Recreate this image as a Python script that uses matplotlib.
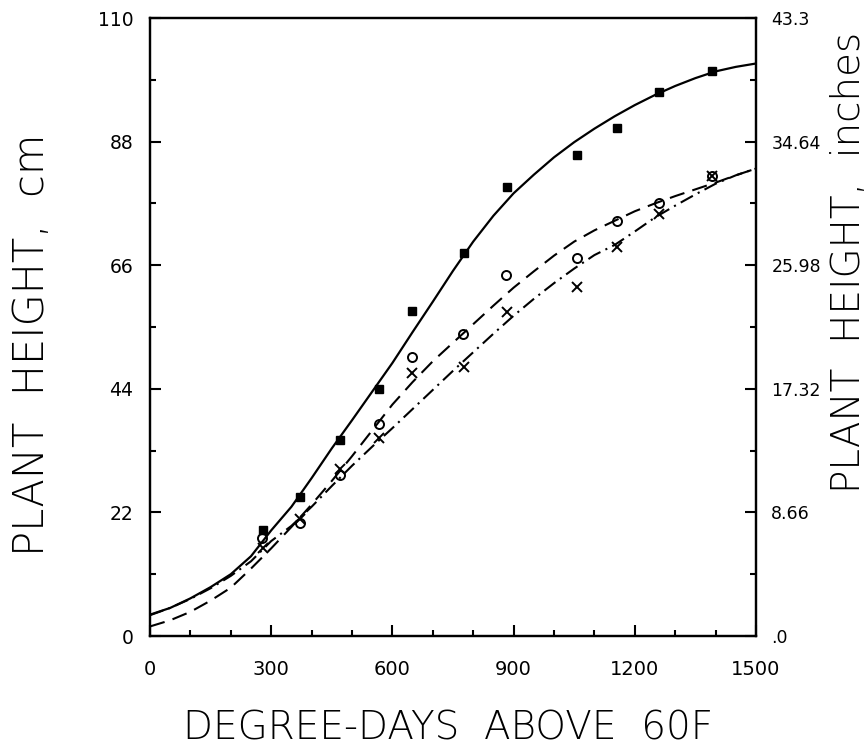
import matplotlib
matplotlib.use('Agg')
import matplotlib.pyplot as plt
from matplotlib.ticker import MultipleLocator, FixedLocator

plt.rcParams['font.family'] = ['DejaVu Sans']
plt.rcParams['lines.scale_dashes'] = False

# observed plant heights (cm)
dd_obs = [279, 371, 470, 568, 648, 777, 883, 1056, 1155, 1261, 1392]
h_square = [18.9, 24.7, 34.8, 43.9, 57.8, 68.2, 80.0, 85.7, 90.5, 96.9, 100.6]
dd_circ = [276, 371, 470, 568, 648, 775, 881, 1056, 1155, 1261, 1392]
h_circle = [17.5, 20.1, 28.6, 37.8, 49.7, 53.8, 64.3, 67.2, 73.8, 77.0, 81.8]
h_cross = [15.7, 20.8, 29.7, 35.2, 46.9, 47.8, 57.7, 62.2, 69.2, 75.2, 81.8]

# fitted curves
dd_fit = [0, 50, 100, 150, 200, 250, 300, 350, 400, 450, 500, 550, 600, 650,
          700, 750, 800, 850, 900, 950, 1000, 1050, 1100, 1150, 1200, 1250,
          1300, 1350, 1400, 1450, 1500]
fit_solid = [3.8, 5.0, 6.7, 8.7, 11.0, 14.2, 18.8, 23.0, 28.1, 33.4, 38.4, 43.5,
             48.6, 54.1, 59.5, 65.0, 70.2, 74.8, 78.8, 82.1, 85.2, 87.9, 90.3,
             92.5, 94.5, 96.3, 97.9, 99.3, 100.5, 101.3, 101.9]
fit_dashed = [1.7, 2.8, 4.3, 6.3, 8.6, 12.0, 15.6, 19.4, 23.4, 27.6, 32.0, 36.6,
              41.2, 45.2, 48.9, 52.2, 55.5, 58.8, 62.0, 64.9, 67.7, 70.2, 72.2,
              73.9, 75.6, 77.0, 78.3, 79.5, 80.7, 82.0, 83.2]
fit_dashdot = [3.7, 5.0, 6.6, 8.5, 10.7, 13.3, 16.9, 19.6, 23.0, 26.7, 30.3, 33.7,
               37.0, 40.4, 43.8, 47.2, 50.5, 53.8, 57.0, 60.0, 62.8, 65.4, 67.8,
               69.6, 72.0, 74.5, 76.6, 78.6, 80.5, 82.0, 83.2]

cm_ticks = [0, 22, 44, 66, 88, 110]
inch_labels = ['.0', '8.66', '17.32', '25.98', '34.64', '43.3']

fig = plt.figure(figsize=(8.68, 7.51), dpi=100)
ax = fig.add_axes([150/868, 1 - 636/751, 606/868, 618/751])

ax.plot(dd_fit, fit_solid, color='black', lw=1.6)
ax.plot(dd_fit, fit_dashed, color='black', lw=1.5, linestyle=(0, (11, 6)))
ax.plot(dd_fit, fit_dashdot, color='black', lw=1.5, linestyle=(0, (10, 4, 1.5, 4)))

ax.plot(dd_obs, h_square, 's', color='black', markersize=5.5, linestyle='none')
ax.plot(dd_circ, h_circle, 'o', mfc='none', mec='black', mew=1.4, markersize=6.5, linestyle='none')
ax.plot(dd_obs, h_cross, 'x', color='black', mew=1.4, markersize=7, linestyle='none')

ax.set_xlim(0, 1500)
ax.set_ylim(0, 110)
ax.xaxis.set_major_locator(MultipleLocator(300))
ax.xaxis.set_minor_locator(MultipleLocator(100))
ax.yaxis.set_major_locator(FixedLocator(cm_ticks))
ax.yaxis.set_minor_locator(MultipleLocator(11))
ax.tick_params(which='both', direction='in', top=False, right=False, width=1.5)
ax.tick_params(which='major', length=8)
ax.tick_params(which='minor', length=4)
ax.tick_params(axis='x', pad=17, labelsize=14)
ax.tick_params(axis='y', pad=12, labelsize=13.5)

ax2 = ax.twinx()
ax2.set_ylim(0, 110)
ax2.yaxis.set_major_locator(FixedLocator(cm_ticks))
ax2.yaxis.set_minor_locator(MultipleLocator(11))
ax2.set_yticklabels(inch_labels)
ax2.tick_params(which='both', direction='in', width=1.5, labelsize=12.5, pad=11)
ax2.tick_params(which='major', length=8)
ax2.tick_params(which='minor', length=4)

for a in (ax, ax2):
    for s in a.spines.values():
        s.set_linewidth(1.6)

lab = dict(fontweight='light', color='black')
fig.text(448/868, 1 - 728/751, 'DEGREE-DAYS  ABOVE  60F', fontsize=28,
         ha='center', va='center', **lab)
fig.text(32/868, 1 - 345/751, 'PLANT  HEIGHT,  cm', fontsize=30, rotation=90,
         ha='center', va='center', **lab)
fig.text(868/868, 1 - 262/751, 'PLANT  HEIGHT,  inches', fontsize=28, rotation=90,
         ha='right', va='center', **lab)

fig.savefig('out.png', dpi=100)
